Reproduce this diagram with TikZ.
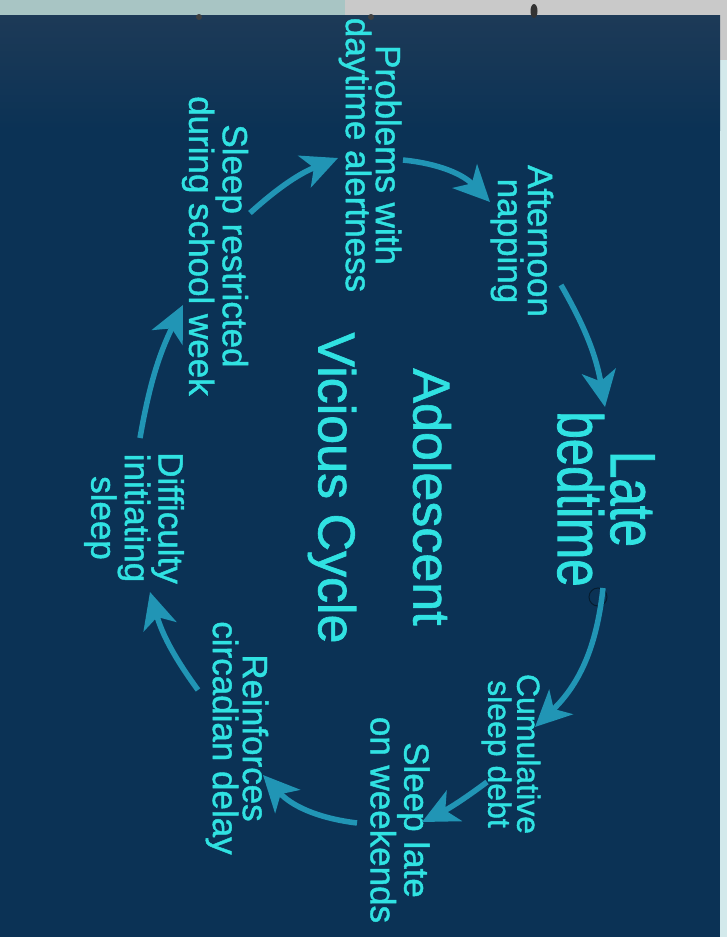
\documentclass[tikz,border=0pt]{standalone}
\usepackage{fontspec}
\setmainfont{Liberation Sans}
\newfontfamily\lblfont[FakeBold=1.2]{Liberation Sans}
\newfontfamily\narrowfont[FakeStretch=0.77,FakeBold=1.2]{Liberation Sans}
\usetikzlibrary{arrows.meta,calc}
\definecolor{navy}{HTML}{0B3255}
\definecolor{navytop}{HTML}{1D3A57}
\definecolor{txt}{HTML}{30E2E2}
\definecolor{arrc}{HTML}{2195B5}
\definecolor{stripteal}{HTML}{A8C5C4}
\definecolor{stripgray}{HTML}{C9C9C9}
\definecolor{stripright}{HTML}{D3E9EB}
\begin{document}
\begin{tikzpicture}[x=1pt,y=-1pt,
  lbl/.style={text=txt, align=center, rotate=-90, inner sep=0pt, font=\lblfont\fontsize{35}{30}\selectfont},
  cyc/.style={draw=arrc, line width=5.5pt, -{Stealth[length=36pt,width=34pt,inset=10pt]}}]
\useasboundingbox (0,0) rectangle (727,937);
% backdrop
\fill[stripgray] (0,0) rectangle (727,937);
\fill[stripteal] (0,0) rectangle (345,16);
\fill[stripright] (720,60) rectangle (727,937);
\shade[top color=navytop, bottom color=navy] (0,15) rectangle (720,130);
\fill[navy] (0,130) rectangle (720,937);
\fill[black!75] (199,17) ellipse (3 and 3);
\fill[black!75] (371,17) ellipse (3 and 3);
\fill[black!80] (534,11) ellipse (3.5 and 7);
% labels
\node[lbl] (prob) at (370,155) {Problems with\\daytime alertness};
\node[lbl] (nap) at (522,241) {Afternoon\\napping};
\node[lbl, font=\narrowfont\fontsize{64}{53}\selectfont] (late) at (606,499) {Late\\bedtime};
\node[lbl, font=\lblfont\fontsize{32}{29}\selectfont] (debt) at (511,754) {Cumulative\\sleep debt};
\node[lbl] (wknd) at (400,820) {Sleep late\\on weekends};
\node[lbl] (reinf) at (237,738) {Reinforces\\circadian delay};
\node[lbl] (diff) at (134,518) {Difficulty\\initiating\\sleep};
\node[lbl] (restr) at (215,246) {Sleep restricted\\during school week};
\node[lbl, font=\lblfont\fontsize{52}{52}\selectfont] (adol) at (432,497) {Adolescent};
\node[lbl, font=\lblfont\fontsize{52}{52}\selectfont] (vc) at (332,488) {Vicious Cycle};
\draw[draw=black!45!navy, line width=1pt] ($(late)+(-8,98)$) circle (9);
% cycle arrows
\draw[cyc] ($(prob)+(33,5)$) to[bend left=20] ($(nap)+(-32,-39)$);
\draw[cyc] ($(nap)+(39,44)$) to[bend left=10] ($(late)+(-1,-92)$);
\draw[cyc] ($(late)+(-3,89)$) to[bend left=20] ($(debt)+(24,-27)$);
\draw[cyc] ($(debt)+(-24,28)$) to[bend left=5] ($(wknd)+(22,2)$);
\draw[cyc] ($(wknd)+(-43,3)$) to[bend left=20] ($(reinf)+(26,37)$);
\draw[cyc] ($(reinf)+(-39,-48)$) to[bend left=10] ($(diff)+(16,74)$);
\draw[cyc] ($(diff)+(6,-80)$) to[bend left=8] ($(restr)+(-32,59)$);
\draw[cyc] ($(restr)+(35,-33)$) to[bend left=10] ($(prob)+(-32,3)$);
\end{tikzpicture}
\end{document}
